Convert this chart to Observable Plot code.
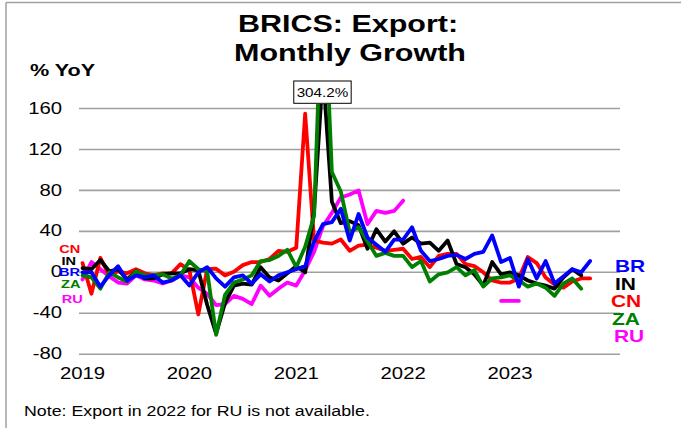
<!DOCTYPE html>
<html><head><meta charset="utf-8">
<script src="https://cdn.jsdelivr.net/npm/d3@7"></script>
<script src="https://cdn.jsdelivr.net/npm/@observablehq/plot@0.6"></script>
<style>
html,body{margin:0;padding:0;background:#fff;}
#wrap{position:relative;width:681px;height:428px;overflow:hidden;font-family:"Liberation Sans",Arial,sans-serif;}
#wrap svg{position:absolute;left:0;top:0;}
</style></head><body><div id="wrap"></div>
<script>
// ---- data (monthly YoY %, starting Jan 2019) ----
const yearLabels = ["2019", "2020", "2021", "2022", "2023"];
const yTicks = [-80, -40, 0, 40, 80, 120, 160];
const seriesNames = ["BR", "IN", "CN", "ZA", "RU"];
const seriesColors = ["#0000ff", "#000000", "#ff0000", "#008000", "#ff00ff"];

const cn = [9, -21, 14, -3, 1, -1, 3, -1, -3, -1, -1, 8,
            2, -41, 3, 3.5, -3, 0.5, 7, 10, 10, 13, 21, 20,
            24, 155, 31, 29, 28, 32, 21, 26, 27, 24, 21, 22,
            23, 13, 15, 5, 16, 18, 18, 8, 6, 0, -8, -10,
            -10, -6, 15, 9, -5, -12, -15, -9, -6, -6];
const inn = [4, 3, 12, 1, 3, -7, 1, -6, -6, -2, -1, -1,
             3, 2, -32, -60, -30, -13, -11, -12, 5, -5, -8, -1,
             6, 0, 60, 196, 69, 48, 50, 46, 23, 42, 30, 40,
             28, 34, 28, 29, 21, 31, 8, 5, -2, -13, 10, -2,
             0, -3, -8, -11, -13, -16, -5, 3, -3];
const br = [0, 0, -14, -3, 6, -8, -3, -5, -3, -10, -8, -3,
            -13, 0, 5, -6, -14, -5, -3, -11, -2, -9, -3, 0,
            3, 6, 30, 47, 49, 62, 31, 57, 34, 27, 20, 32,
            32, 44, 21, 11, 13, 16, 17, 13, 18, 20, 36, 10,
            14, -14, 13, -6, 11, -11, -4, 3, 0, 11];
const za = [-3, -5, -16, 0, -5, -9, 1, -3, -3, -2, -6, -3,
            11, 3, 1, -61, -22, -10, -7, -3, 11, 12, 16, 22,
            5, 25, 55, 304.2, 98, 79, 39, 44, 30, 16, 19, 16,
            16, 5, 11, -9, -2, 0, 5, -3, 2, -14, -6, -5,
            -3, -8, -14, -11, -15, -23, -11, -6, -16];
const ru = [-7, 10, 3, -4, -10, -11, -3, -7, -8, -11, -8, -3,
            -5, -15, -21, -32, -31, -23, -26, -31, -13, -23, -16, -10,
            -13, 2, 20, 45, 58, 73, 76, 80, 47, 60, 58, 60,
            70, null, null, null, null, null, null, null, null, null, null, -28,
            -28, -28];
const noteText = "Note: Export in 2022 for RU is not available.";

// ---- build table ----
const seriesData = {BR: br, IN: inn, CN: cn, ZA: za, RU: ru};
const toRows = (name) => seriesData[name].map((v, i) => ({s: name, i, v}));
const colorOf = (name) => seriesColors[seriesNames.indexOf(name)];
const drawOrder = ["RU", "CN", "IN", "ZA", "BR"];

const SX = 1.27; // horizontal stretch of the reference's text

const plot = Plot.plot({
  width: 681,
  height: 428,
  marginLeft: 79,
  marginRight: 61,
  marginTop: 103.9,
  marginBottom: 74.3,
  style: {fontFamily: "'Liberation Sans', Arial, sans-serif", background: "transparent", color: "#000"},
  x: {type: "linear", domain: [-0.34, 60.41]},
  y: {domain: [-80, 164]},
  marks: [
    Plot.gridY(yTicks, {stroke: "#a0a0a0", strokeOpacity: 1, strokeWidth: 1.6}),
    Plot.axisY(yTicks, {tickSize: 0, tickPadding: 17.5, fontSize: 16, label: null,
      tickFormat: (d) => String(d)}),
    Plot.axisX(yearLabels.map((_, k) => k * 12), {
      tickSize: 0, tickPadding: 13.3, fontSize: 16, label: null,
      tickFormat: (d) => yearLabels[d / 12]
    }),
    ...drawOrder.map((name) => Plot.line(toRows(name), {
      x: "i", y: "v", stroke: colorOf(name), strokeWidth: 3.8,
      strokeLinejoin: "round", strokeLinecap: "round", clip: true
    }))
  ]
});

// stretch axis tick labels horizontally like the reference
plot.querySelectorAll('g[aria-label$="tick label"] text').forEach((el) => {
  const xa = el.getAttribute("x");
  let t = el.getAttribute("transform") || "";
  if (xa != null && !isNaN(+xa)) { t += ` translate(${+xa},0)`; el.removeAttribute("x"); }
  el.setAttribute("transform", `${t} scale(${SX},1)`);
});

const wrap = document.getElementById("wrap");
wrap.appendChild(plot);

// ---- overlay: title, labels, note, annotation, frame ----
const ov = d3.create("svg").attr("width", 681).attr("height", 428)
  .style("pointer-events", "none")
  .attr("font-family", "'Liberation Sans', Arial, sans-serif");

function addText(x, y, str, size, weight, anchor, fill) {
  ov.append("text")
    .attr("transform", `translate(${x},${y}) scale(${SX},1)`)
    .attr("font-size", size).attr("font-weight", weight)
    .attr("text-anchor", anchor).attr("fill", fill).text(str);
}

// frame lines
ov.append("line").attr("x1", 6).attr("x2", 681).attr("y1", 2.5).attr("y2", 2.5)
  .attr("stroke", "#a0a0a0").attr("stroke-width", 1.5);
ov.append("line").attr("x1", 6).attr("x2", 6).attr("y1", 2.5).attr("y2", 428)
  .attr("stroke", "#a0a0a0").attr("stroke-width", 1.5);

addText(348, 32, "BRICS: Export:", 24, "bold", "middle", "#000");
addText(350, 61, "Monthly Growth", 24, "bold", "middle", "#000");
addText(30, 76, "% YoY", 17, "bold", "start", "#000");
addText(24, 416, noteText, 14, "normal", "start", "#000");

// left-side labels
const leftPos = {CN: [69.7, 253], IN: [68.8, 264.7], BR: [69.5, 276.3], ZA: [70.8, 288], RU: [72.2, 302.5]};
for (const n of ["CN", "IN", "BR", "ZA", "RU"]) addText(leftPos[n][0], leftPos[n][1], n, 11.5, "bold", "middle", colorOf(n));
// right-side labels
const rightPos = {BR: [615, 271.5], IN: [615, 290], CN: [611, 306.7], ZA: [612, 325], RU: [614, 341.7]};
for (const n of ["BR", "IN", "CN", "ZA", "RU"]) addText(rightPos[n][0], rightPos[n][1], n, 16.5, "bold", "start", colorOf(n));

// annotation for the clipped peak
const peak = d3.max(za);
const peakIdx = za.indexOf(peak);
const cx = plot.scale("x").apply(peakIdx);
ov.append("rect").attr("x", cx - 28.7).attr("y", 81).attr("width", 57.4).attr("height", 22.3)
  .attr("fill", "#fff").attr("stroke", "#000").attr("stroke-width", 1);
addText(cx, 97, peak.toFixed(1) + "%", 12, "normal", "middle", "#000");

wrap.appendChild(ov.node());
</script>
</body></html>
